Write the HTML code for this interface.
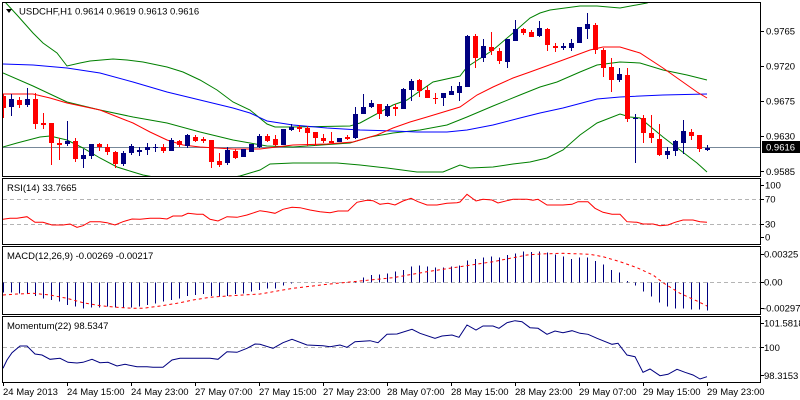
<!DOCTYPE html>
<html><head><meta charset="utf-8"><style>
html,body{margin:0;padding:0;background:#fff;}
svg{display:block;}
text{font-family:"Liberation Sans",Arial,sans-serif;font-size:9.5px;fill:#000;}
</style></head><body>
<svg width="800" height="400" viewBox="0 0 800 400" xmlns="http://www.w3.org/2000/svg">
<defs>
<clipPath id="cm"><rect x="3" y="3" width="757" height="173"/></clipPath>
<clipPath id="cr"><rect x="3" y="179" width="757" height="65"/></clipPath>
<clipPath id="cd"><rect x="3" y="247" width="757" height="67"/></clipPath>
<clipPath id="co"><rect x="3" y="317" width="757" height="65"/></clipPath>
</defs>
<rect width="800" height="400" fill="#fff"/>

<!-- MAIN PANEL -->
<g clip-path="url(#cm)" fill="none" stroke-width="1">
<line x1="3" y1="147.5" x2="760" y2="147.5" stroke="#778899"/>
<polyline stroke="#008000" points="3,0 5,2 17,15 33,33 43,43 57,53 67,66 80,63 90,61 113,59 127,60 143,62 167,67 183,72 200,80 217,90 233,102 250,110 267,124 275,127 293,127 350,126 360,123 393,105 407,100 433,82 460,76 467,67 493,50 513,33 530,18 540,13 550,10 580,6 597,6 620,8 647,3 660,-2 707,-6"/>
<polyline stroke="#008000" points="3,73 33,86 67,102 100,110 133,117 167,123 200,132 233,140 267,146 293,147 350,143 370,137 393,133 420,130 447,125 467,117 493,106 520,95 540,87 557,82 580,72 597,65 620,62 640,63 663,70 687,75 707,80"/>
<polyline stroke="#008000" points="3,147 17,143 40,137 50,136 67,140 83,148 100,158 117,167 133,172 143,175 170,180 210,181 240,176 250,173 260,170 270,164 293,163 337,163 360,165 387,168 417,172 443,172 460,165 470,168 493,167 513,164 530,162 547,158 563,150 580,135 597,123 620,114 630,117 640,118 663,137 680,150 697,163 707,172"/>
<polyline stroke="#0000ff" points="3,64 33,65 67,68 100,73 133,82 167,92 200,100 233,108 250,113 267,121 293,125 327,128 360,130 393,131 417,132 447,132 467,130 493,125 520,118 540,113 563,108 597,99 620,97 663,95 707,94"/>
<polyline stroke="#ff0000" points="3,94 33,94 50,98 67,103 100,110 133,123 150,132 167,140 183,145 200,147 233,149 260,149 293,145 327,144 353,142 377,135 393,128 410,122 427,117 460,107 477,95 493,87 513,78 530,72 563,60 590,50 603,47 620,47 640,53 663,68 680,80 697,92 707,98"/>
<path stroke="#ff0000" shape-rendering="crispEdges" d="M3.5 94V118M19.5 97V108M35.5 93V129M43.5 113V129M51.5 123V165M59.5 138V160M75.5 138V162M99.5 143V151M107.5 144V155M115.5 151V168M163.5 144V153M179.5 140V147M195.5 135V142M203.5 137V143M211.5 140V168M219.5 153V167M235.5 149V159M267.5 134V142M275.5 135V146M299.5 125V132M307.5 126V146M315.5 132V146M323.5 134V143M331.5 132V143M347.5 135V140M379.5 104V119M395.5 104V116M419.5 79V97M427.5 86V98M435.5 93V104M475.5 34V68M491.5 32V55M499.5 48V64M523.5 28V35M531.5 30V37M547.5 28V51M555.5 43V52M595.5 23V54M603.5 48V77M611.5 58V92M627.5 68V122M643.5 115V143M651.5 115V143M659.5 124V156M691.5 129V140M699.5 135V152"/>
<path stroke="#ff0000" stroke-width="5" shape-rendering="crispEdges" d="M3.5 96V108M19.5 100V105M35.5 99V124M43.5 123V125M51.5 123V143M59.5 143V145M75.5 141V159M99.5 144V147M107.5 147V152M115.5 152V164M163.5 147V151M179.5 141V145M195.5 137V141M203.5 139V141M211.5 140V162M219.5 161V165M235.5 151V158M267.5 136V141M275.5 139V145M299.5 127V129M307.5 128V133M315.5 132V138M323.5 138V141M331.5 141V143M347.5 137V139M379.5 104V114M395.5 107V109M419.5 80V91M427.5 90V98M435.5 98V99M475.5 36V58M491.5 47V51M499.5 51V61M523.5 29V33M531.5 32V37M547.5 29V45M555.5 46V48M595.5 25V50M603.5 50V68M611.5 67V80M627.5 75V119M643.5 118V133M651.5 133V138M659.5 139V155M691.5 132V136M699.5 135V149"/>
<path stroke="#000080" shape-rendering="crispEdges" d="M11.5 94V116M27.5 88V107M67.5 121V146M83.5 149V168M91.5 144V159M123.5 151V166M131.5 144V155M139.5 147V156M147.5 143V155M155.5 144V152M171.5 138V151M187.5 134V148M227.5 147V165M243.5 149V157M251.5 144V152M259.5 134V148M283.5 129V145M291.5 124V131M339.5 138V142M355.5 107V139M363.5 94V114M371.5 100V108M387.5 104V117M403.5 88V109M411.5 79V101M443.5 93V106M451.5 86V95M459.5 82V101M467.5 35V87M483.5 39V62M507.5 39V68M515.5 20V41M539.5 21V37M563.5 43V50M571.5 39V51M579.5 27V43M587.5 13V39M619.5 68V82M635.5 114V163M667.5 147V159M675.5 140V156M683.5 120V154M707.5 145V151"/>
<path stroke="#000080" stroke-width="5" shape-rendering="crispEdges" d="M11.5 99V107M27.5 99V105M67.5 141V144M83.5 155V159M91.5 144V156M123.5 153V164M131.5 146V153M139.5 150V152M147.5 147V150M155.5 147V148M171.5 140V151M187.5 135V146M227.5 150V163M243.5 149V157M251.5 144V152M259.5 136V147M283.5 129V145M291.5 127V130M339.5 138V142M355.5 114V138M363.5 107V114M371.5 103V107M387.5 106V116M403.5 89V109M411.5 81V90M443.5 93V98M451.5 91V95M459.5 86V93M467.5 36V87M483.5 46V58M507.5 39V62M515.5 29V41M539.5 28V36M563.5 46V48M571.5 43V48M579.5 27V43M587.5 24V29M619.5 74V80M635.5 118V119M667.5 151V155M675.5 141V151M683.5 131V143M707.5 148V150"/>
</g>

<!-- RSI -->
<g clip-path="url(#cr)" fill="none">
<line x1="3" y1="199.5" x2="760" y2="199.5" stroke="#b4b4b4" stroke-dasharray="4,3"/>
<line x1="3" y1="224.5" x2="760" y2="224.5" stroke="#b4b4b4" stroke-dasharray="4,3"/>
<polyline stroke="#ff0000" points="3,219.3 10,218.3 17,218.3 27,216.7 35,222.3 43,222.3 52,225 63,225 70,224 77,227.3 83,225.7 90,221.7 100,221.7 107,222.7 115,225 123,221.7 132,219 140,219.3 150,218.3 160,218.3 167,219 173,216 182,216 188,213.3 197,214.3 203,214.3 210,219.3 218,221 227,216.7 237,217.3 247,215 260,210.7 267,211.7 275,213.3 283,209.3 292,207.3 300,207.7 310,210 320,211.7 330,212.7 338,211 348,211 357,202.3 367,200.3 373,200.7 380,204.3 388,203.3 395,205 403,201 411,198.3 418,201.7 427,205 437,205 447,203.3 457,202.7 460,202 467,194.3 476,201 483,199.3 492,200 498,203 507,200.7 513,199.3 527,199.3 533,200.3 538,199.3 547,205 563,205 572,204.3 578,201.7 588,201.7 595,208.3 603,212.3 612,214.3 620,214.3 627,221.7 637,222.3 643,224 653,224 660,225.7 668,225 675,222.3 683,220 693,220 700,221.7 707,222.3"/>
</g>

<!-- MACD -->
<g clip-path="url(#cd)" fill="none">
<line x1="3" y1="282.5" x2="760" y2="282.5" stroke="#b4b4b4" stroke-dasharray="4,3"/>
<path stroke="#000080" stroke-width="1" shape-rendering="crispEdges" d="M3.5 282.5V292.7M11.5 282.5V292.7M19.5 282.5V293.3M27.5 282.5V293.3M35.5 282.5V296M43.5 282.5V298.3M51.5 282.5V300M59.5 282.5V301.7M67.5 282.5V305M75.5 282.5V306.7M83.5 282.5V308.3M91.5 282.5V307.7M99.5 282.5V307.7M107.5 282.5V306.7M115.5 282.5V307.7M123.5 282.5V307.7M131.5 282.5V307.3M139.5 282.5V306.7M147.5 282.5V305M155.5 282.5V303.3M163.5 282.5V301.7M171.5 282.5V300M179.5 282.5V298.3M187.5 282.5V296M195.5 282.5V295M203.5 282.5V294M211.5 282.5V296M219.5 282.5V296.7M227.5 282.5V296M235.5 282.5V294M243.5 282.5V293.3M251.5 282.5V291.7M259.5 282.5V290M267.5 282.5V288.5M275.5 282.5V288.3M283.5 282.5V285.7M291.5 282.5V283.7M355.5 282.5V281M363.5 282.5V277.7M371.5 282.5V275M379.5 282.5V274.3M387.5 282.5V273.3M395.5 282.5V271.7M403.5 282.5V270M411.5 282.5V266.7M419.5 282.5V265.7M427.5 282.5V266.7M435.5 282.5V267.3M443.5 282.5V267.3M451.5 282.5V266.7M459.5 282.5V265.7M467.5 282.5V260.7M475.5 282.5V259M483.5 282.5V257.3M491.5 282.5V256.7M499.5 282.5V257.3M507.5 282.5V255M515.5 282.5V253.3M523.5 282.5V251.7M531.5 282.5V252M539.5 282.5V251.7M547.5 282.5V252.7M555.5 282.5V254.3M563.5 282.5V256.7M571.5 282.5V259M579.5 282.5V257.7M587.5 282.5V257.7M595.5 282.5V261M603.5 282.5V264.3M611.5 282.5V270M619.5 282.5V272.7M627.5 282.5V281M635.5 282.5V285.7M643.5 282.5V291.7M651.5 282.5V296.7M659.5 282.5V302.7M667.5 282.5V306.7M675.5 282.5V308.3M683.5 282.5V308.3M691.5 282.5V309.3M699.5 282.5V309.3M707.5 282.5V310.7"/>
<polyline stroke="#ff0000" stroke-dasharray="3,3" points="3,295 17,294 33,293.3 50,295 67,298.3 83,302.7 100,305.7 117,307.3 133,308.3 143,308.3 160,306 177,303.3 193,300 210,297.3 227,296 243,295 260,294 293,288.3 327,284.3 360,281 393,277.7 427,271.7 460,266.7 493,261.7 527,255 540,254 563,253.3 590,254.3 603,256.7 620,261.7 637,267.7 653,275 663,282.7 680,293.3 697,301 707,306"/>
</g>

<!-- MOMENTUM -->
<g clip-path="url(#co)" fill="none">
<line x1="3" y1="347.5" x2="760" y2="347.5" stroke="#b4b4b4" stroke-dasharray="4,3"/>
<polyline stroke="#000080" points="3,368.3 7,360 12,352.7 20,346 27,346 35,354 42,355 50,359.3 60,358.3 68,362.3 77,363 83,362.3 92,359.3 100,362.7 108,362.3 117,366 125,364.3 137,366.7 147,366.7 153,367.3 163,367.3 172,360 180,358.3 200,358.3 210,358.3 218,359.3 227,351.7 237,352.3 247,348.3 255,344 260,344.3 273,348.3 283,342.7 292,339.3 307,345 323,345.7 330,346.7 340,345 347,347.3 355,341.7 370,340.7 378,342.7 387,334.3 397,334 412,329.3 420,333.3 435,338.3 442,336 452,335 459,337.3 467,325 476,330 483,326 493,326 499,328.3 507,322.7 515,320.7 522,321.7 530,327.7 538,328.3 547,334.3 555,331 563,332.7 572,330.7 580,333.3 588,334.3 597,338.3 612,344.3 618,343.3 627,355 635,356.7 643,372.3 650,369 660,375.7 668,374.3 677,369.3 685,372.3 693,375 700,379 707,376.7"/>
</g>

<!-- BORDERS -->
<g fill="none" stroke="#000" stroke-width="1" shape-rendering="crispEdges">
<rect x="2.5" y="2.5" width="758" height="174"/>
<rect x="2.5" y="178.5" width="758" height="66"/>
<rect x="2.5" y="246.5" width="758" height="68"/>
<rect x="2.5" y="316.5" width="758" height="66"/>
<path d="M761 31.5H764M761 66.5H764M761 101.5H764M761 136.5H764M761 171.5H764M761 185.5H764M761 199.5H764M761 224.5H764M761 237.5H764M761 254.5H764M761 282.5H764M761 308.5H764M761 323.5H764M761 347.5H764M761 375.5H764"/>
<path d="M3.5 383V386M67.5 383V386M131.5 383V386M195.5 383V386M259.5 383V386M323.5 383V386M387.5 383V386M451.5 383V386M515.5 383V386M579.5 383V386M643.5 383V386M707.5 383V386"/>
</g>

<!-- Title & labels -->
<polygon points="6,9 12,9 9,13" fill="#000"/>
<text x="19" y="14.5">USDCHF,H1  0.9614 0.9619 0.9613 0.9616</text>
<text x="7" y="191">RSI(14) 33.7665</text>
<text x="7" y="259">MACD(12,26,9) -0.00269 -0.00217</text>
<text x="7" y="329">Momentum(22) 98.5347</text>

<!-- Price axis -->
<text x="766" y="34.5">0.9765</text>
<text x="766" y="69.5">0.9720</text>
<text x="766" y="104.5">0.9675</text>
<text x="766" y="139.5">0.9630</text>
<text x="766" y="175">0.9585</text>
<rect x="762" y="141" width="38" height="12" fill="#000"/>
<text x="766" y="150.5" style="fill:#fff">0.9616</text>

<text x="765" y="188.5">100</text>
<text x="765" y="202.5">70</text>
<text x="765" y="227.5">30</text>
<text x="765" y="240.5">0</text>

<text x="764" y="257.5">0.00325</text>
<text x="764" y="285.5">0.00</text>
<text x="763" y="311.5">-0.00297</text>

<text x="764" y="326.5">101.5818</text>
<text x="764" y="351">100</text>
<text x="764" y="379">98.3153</text>

<!-- Time axis -->
<text x="3" y="395">24 May 2013</text>
<text x="67" y="395">24 May 15:00</text>
<text x="131" y="395">24 May 23:00</text>
<text x="195" y="395">27 May 07:00</text>
<text x="259" y="395">27 May 15:00</text>
<text x="323" y="395">27 May 23:00</text>
<text x="387" y="395">28 May 07:00</text>
<text x="451" y="395">28 May 15:00</text>
<text x="515" y="395">28 May 23:00</text>
<text x="579" y="395">29 May 07:00</text>
<text x="643" y="395">29 May 15:00</text>
<text x="707" y="395">29 May 23:00</text>
</svg>
</body></html>
